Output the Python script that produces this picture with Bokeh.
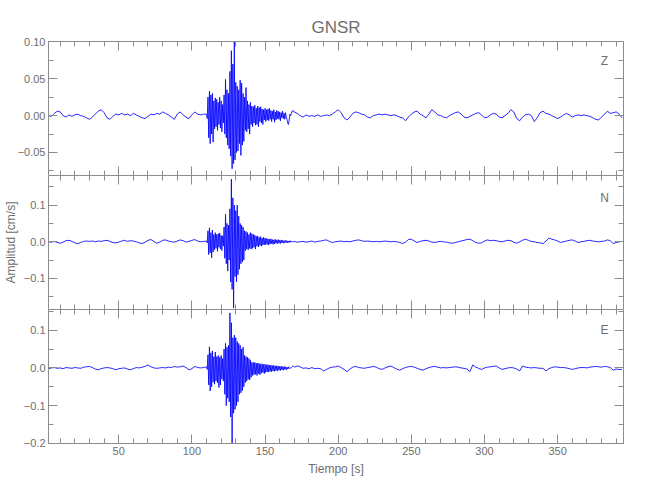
import numpy as np
from bokeh.plotting import figure
from bokeh.layouts import column
from bokeh.models import (LinearAxis, SingleIntervalTicker, CustomJSTickFormatter,
                          CustomLabelingPolicy, Label, Range1d, Grid)
from bokeh.embed import file_html
from bokeh.resources import INLINE

TITLE = "GNSR"
X_LABEL = "Tiempo [s]"
Y_LABEL = "Amplitud [cm/s]"

# sampling of each segment: (start [s], step [s])
PRE_T = (2.0, 2.0)
BURST_T = (110.0, 0.5)
POST_T = (170.0, 2.0)

# amplitudes in 0.001 cm/s
z_pre = [0, -1, 3, 6, 5, 0, -2, 1, -1, 1,
         2, 0, -1, -3, -5, -2, 2, 6, 8, 4,
         -3, -5, -1, 2, 1, 3, 1, 2, 0, 3,
         1, -1, -3, -4, -1, 2, 1, 3, 2, 5,
         3, 1, -2, -5, 2, 5, 1, -2, -4, 1,
         5, 2, 1, 2]
z_burst = [2, -4,
           25, -30, 33, -38, 28, -25, 30, -36, 20,
           -18, 24, -15, 22, -20, 18, -12, 25, -17, 20, -22, 15, -10,
           28, -25, 49, -30, 35, -40, 30, -45,
           60, -55, 88, -72, 70, -65, 100, -60,
           45, -50, 40, -48, 35, -38,
           48, -54, 44, -40, 30, -35,
           25, -20, 38, -22, 20, -18, 15, -25, 18, -12,
           13, -15, 12, -10, 14, -13, 10, -12, 13, -15, 11, -8, 12, -10, 9, -12, 8, -6,
           10, -8, 8, -6, 9, -7, 10, -5, 7, -8, 6, -5, 8, -9, 5, -6, 7, -4,
           6, -5, 5, -7, 4, -3, 6, -4, 3, -5, 4, -2, -5, -10, -12, -6, 2, 0,
           3, 6, 7, 5]
z_post = [5, 3, 0, -2, 1, -1, 0, -1, 1, -1,
          0, 1, 0, 2, 5, 8, 4, -3, -6, -2,
          3, 5, 4, 2, 1, -2, -3, 0, 1, 2,
          1, 2, 1, 0, 1, 0, -2, -3, -7, -2,
          2, 5, 6, 2, 0, -3, 2, 8, 5, 1,
          0, -2, -3, 0, 2, 4, 5, 2, -2, -3,
          -1, 1, 3, 4, 1, -3, -2, 1, 3, 2,
          -2, -3, 0, 3, 8, 5, -4, -7, -2, 1,
          2, 0, -8, -3, 4, 6, 3, 2, 0, -2,
          -4, -2, 1, 3, 1, -2, 0, 1, 0, 1,
          0, -1, -3, -5, -6, -2, 2, 6, 3, 4,
          5, 2, -3]

n_pre = [0, -1, 1, -2, -4, -1, 3, 4, 1, -3,
         -5, -2, 1, 2, 1, 2, 0, 2, 1, 3,
         4, 1, -2, -3, -1, 2, 4, 1, 3, 2,
         0, -3, -5, -1, 4, 6, 1, -4, -1, 4,
         5, 2, 0, -1, 2, 5, 3, -1, 1, 4,
         6, 2, 0, 1]
n_burst = [2, -3,
           30, -35, 38, -30, 25, -44, 32, -28, 20,
           -22, 25, -18, 20, -26, 22, -15, 24, -20, 18, -24, 16, -12,
           40, -45, 75, -60, 50, -80, 45, -50,
           90, -110, 171, -130, 120, -181, 100, -95,
           85, -110, 100, -90, 70, -75,
           50, -60, 45, -55, 40, -50,
           30, -25, 28, -20, 25, -22, 20, -18, 25, -20,
           22, -18, 20, -15, 18, -20, 15, -12, 16, -14, 12, -10, 14, -12, 10, -9, 12, -8,
           10, -8, 9, -7, 8, -9, 7, -6, 8, -5, 6, -7, 5, -6, 7, -4, 5, -5,
           6, -4, 4, -5, 5, -3, 4, -4, 3, -3, 4, -2, 3, -3, 2, -2, 3, -1,
           2, -1, 1, 0]
n_post = [1, -1, 0, 1, -1, 0, 2, -1, 1, 2,
          4, 5, 1, -2, 0, 1, 2, 0, 1, 0,
          2, 4, 5, 3, 1, 2, 1, 0, 1, 0,
          1, 2, 1, 0, 1, 0, -2, -5, -1, 6,
          7, 2, -2, 1, 3, 4, 2, -1, -2, 0,
          1, 0, -1, -3, -4, -2, 0, 2, 4, 6,
          7, 3, -2, -4, -3, 2, 5, 3, 4, 3,
          1, 0, 2, 4, 3, -1, -4, 0, 4, 7,
          4, 1, 0, -2, -3, -5, 2, 10, 7, 5,
          2, -2, 0, 2, 4, 5, 2, -2, 0, 1,
          3, 4, 2, 1, 0, 1, 2, 5, 3, -5,
          -2, 0, 1]

e_pre = [-2, 0, 1, -1, 0, -2, 1, 0, -1, 1,
         0, -1, 2, 3, 4, 1, -3, -5, -2, 0,
         1, 0, -2, -5, -2, -1, 0, -3, -5, -2,
         1, 0, 2, 4, 8, 3, 0, -1, 0, 1,
         0, 2, 1, 4, 2, 3, 5, 1, -5, -2,
         4, 1, 0, 1]
e_burst = [3, -4,
           35, -45, 56, -61, 40, -50, 45, -38, 30,
           -43, 42, -35, 30, -40, 33, -52, 28, -45, 33, -30, 25, -35,
           50, -70, 65, -100, 55, -80, 60, -90,
           146, -130, 120, -199, 80, -120, 87, -110,
           80, -100, 70, -90, 65, -70,
           60, -66, 50, -60, 55, -50,
           33, -39, 30, -35, 28, -30, 25, -32, 20, -25,
           15, -20, 14, -18, 15, -17, 12, -20, 13, -15, 12, -18, 10, -14, 11, -12, 9, -15,
           10, -12, 8, -10, 9, -11, 7, -9, 8, -10, 6, -8, 7, -9, 5, -7, 6, -8,
           5, -6, 4, -7, 5, -5, 3, -6, 4, -4, 3, -5, 2, -3, 3, -2, 1, -1,
           1, 3, 5, 4]
e_post = [2, 5, 3, -1, 0, -2, 1, -2, -1, -2,
          -8, -4, 0, 2, 3, 5, 1, -4, -10, -3,
          2, 4, 1, 0, -1, 1, 2, 4, 2, -2,
          -4, 0, 3, 5, 1, -3, -6, -2, 1, 3,
          4, 2, -1, -4, -6, -2, 1, 3, 4, 2,
          0, 1, 0, 1, 2, 3, 2, 0, -1, -3,
          -10, 8, 2, -1, -4, 0, 2, 3, 4, 5,
          0, -4, -2, 0, 1, 0, -3, -8, 5, 2,
          1, 0, 1, 0, -1, -1, -8, -2, 1, 3,
          2, 1, 1, 0, -2, -4, -2, 0, 1, 1,
          0, 2, 3, 4, 3, 2, 4, 3, 1, -6,
          -3, -4, -4]

X_RANGE = (2, 395)
Y_RANGES = {"Z": (-0.0812, 0.1005), "N": (-0.185, 0.181), "E": (-0.2005, 0.155)}
Y_MAJOR = {"Z": 0.05, "N": 0.1, "E": 0.1}
Y_DIGITS = {"Z": 2, "N": 1, "E": 1}
LABEL_Y = {"Z": 0.0736, "N": 0.12, "E": 0.10}

FONT = "Liberation Sans"
LINE_C = "#8c8c8c"
TXT_C = "#6e6e6e"


def build(segs):
    ts, vs = [], []
    for (start, step), vals in segs:
        ts.append(start + step * np.arange(len(vals)))
        vs.append(np.array(vals, dtype=float) / 1000.0)
    return np.concatenate(ts), np.concatenate(vs)


traces = {
    "Z": build([(PRE_T, z_pre), (BURST_T, z_burst), (POST_T, z_post)]),
    "N": build([(PRE_T, n_pre), (BURST_T, n_burst), (POST_T, n_post)]),
    "E": build([(PRE_T, e_pre), (BURST_T, e_burst), (POST_T, e_post)]),
}

x_range = Range1d(*X_RANGE)


def no_labels():
    return CustomLabelingPolicy(code="return new indices.constructor(indices.size);")


def style(ax, show, line=True):
    ax.axis_line_color = LINE_C if line else None
    ax.major_tick_line_color = LINE_C
    ax.minor_tick_line_color = LINE_C
    ax.major_tick_in = 9
    ax.major_tick_out = 0
    ax.minor_tick_in = 5
    ax.minor_tick_out = 0
    if show:
        ax.major_label_text_font = FONT
        ax.major_label_text_font_size = "11px"
        ax.major_label_text_color = TXT_C
        ax.major_label_standoff = 3
    else:
        ax.major_label_policy = no_labels()
        ax.major_label_text_font_size = "0px"
        ax.major_label_standoff = 0


panels = []
for i, name in enumerate(["Z", "N", "E"]):
    first, last = i == 0, i == 2
    top = 41 if first else 0
    bottom = 35 if last else 0
    p = figure(width=640, height=134 + top + bottom, x_range=x_range,
               y_range=Range1d(*Y_RANGES[name]),
               output_backend="svg", toolbar_location=None,
               x_axis_location=None, y_axis_location=None,
               min_border_left=47, min_border_right=17,
               min_border_top=top, min_border_bottom=bottom,
               outline_line_color=None)
    for g in p.select(type=Grid):
        g.visible = False

    xt = SingleIntervalTicker(interval=50, num_minor_ticks=5)
    yt = SingleIntervalTicker(interval=Y_MAJOR[name], num_minor_ticks=2)
    fmt = CustomJSTickFormatter(
        code="var v = Math.abs(tick) < 1e-9 ? 0 : tick;"
             "return v.toFixed(%d).replace('-', '\u2212');" % Y_DIGITS[name])

    left = LinearAxis(ticker=yt, formatter=fmt)
    style(left, True)
    if name == "N":
        left.axis_label = Y_LABEL
        left.axis_label_text_font = FONT
        left.axis_label_text_font_size = "12px"
        left.axis_label_text_font_style = "normal"
        left.axis_label_text_color = TXT_C
        left.axis_label_standoff = 3
    p.add_layout(left, "left")

    right = LinearAxis(ticker=yt)
    style(right, False)
    p.add_layout(right, "right")

    # top edge of every panel carries the visible divider line
    above = LinearAxis(ticker=xt)
    style(above, False, line=True)
    p.add_layout(above, "above")

    below = LinearAxis(ticker=xt)
    style(below, last, line=last)
    if last:
        below.axis_label = X_LABEL
        below.axis_label_text_font = FONT
        below.axis_label_text_font_size = "12px"
        below.axis_label_text_font_style = "normal"
        below.axis_label_text_color = TXT_C
        below.axis_label_standoff = 4
    p.add_layout(below, "below")

    if first:
        p.title.text = TITLE
        p.title.align = "center"
        p.title.text_font = FONT
        p.title.text_font_size = "17px"
        p.title.text_font_style = "normal"
        p.title.text_color = TXT_C
        p.title.standoff = 10

    t, v = traces[name]
    p.line(t, v, line_color="#0000ff", line_width=1, line_alpha=0.85)

    p.add_layout(Label(x=382, y=LABEL_Y[name], text=name, text_font=FONT,
                       text_font_size="12px", text_color=TXT_C,
                       text_align="center", text_baseline="middle"))
    panels.append(p)

layout = column(*panels, spacing=0)
open("out.html", "w").write(file_html(layout, INLINE))
